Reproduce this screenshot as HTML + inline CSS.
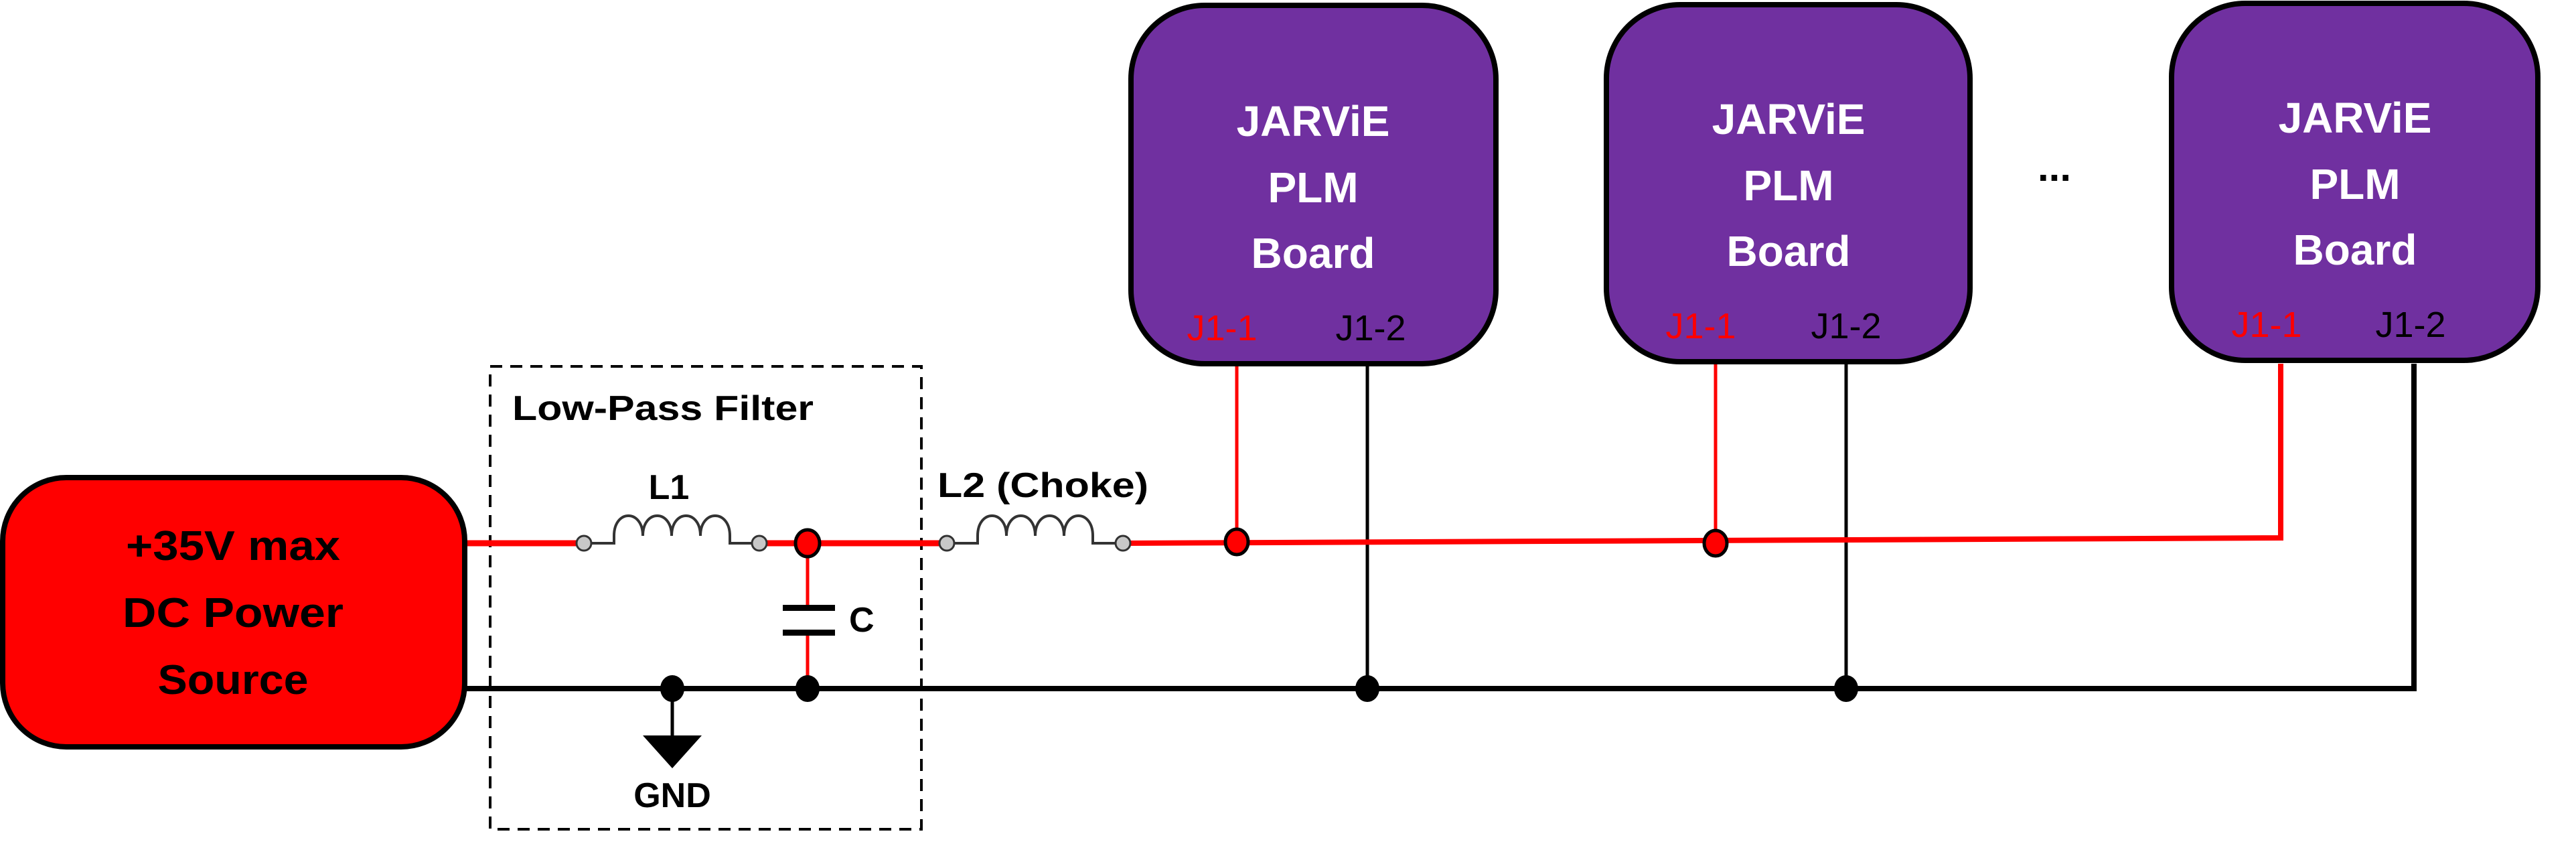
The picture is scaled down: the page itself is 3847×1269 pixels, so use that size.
<!DOCTYPE html>
<html><head><meta charset="utf-8"><style>
html,body{margin:0;padding:0;background:#fff;}
svg{display:block;}
text{font-family:"Liberation Sans",sans-serif;}
</style></head><body>
<svg width="3847" height="1269" viewBox="0 0 3847 1269" xmlns="http://www.w3.org/2000/svg">
<!-- dashed filter box -->
<rect x="732" y="547" width="644" height="691" fill="none" stroke="#000" stroke-width="4" stroke-dasharray="18,12"/>
<text x="765" y="627" font-size="52" font-weight="bold" textLength="450" lengthAdjust="spacingAndGlyphs">Low-Pass Filter</text>

<!-- ground wire -->
<polyline points="695,1028 3605,1028 3605,543" fill="none" stroke="#000" stroke-width="8"/>
<line x1="2042" y1="543" x2="2042" y2="1028" stroke="#000" stroke-width="5"/>
<line x1="2757" y1="543" x2="2757" y2="1028" stroke="#000" stroke-width="5"/>
<!-- GND symbol -->
<line x1="1004" y1="1028" x2="1004" y2="1100" stroke="#000" stroke-width="5"/>
<polygon points="960,1098 1048,1098 1004,1147" fill="#000"/>
<text x="1004" y="1205" font-size="52" font-weight="bold" text-anchor="middle">GND</text>

<!-- red supply line -->
<line x1="695" y1="811" x2="872" y2="811" stroke="#f00" stroke-width="9"/>
<line x1="1134" y1="811" x2="1414" y2="811" stroke="#f00" stroke-width="9"/>
<polyline points="1677,811 3406,803 3406,543" fill="none" stroke="#f00" stroke-width="8"/>
<line x1="1847" y1="543" x2="1847" y2="811" stroke="#f00" stroke-width="5"/>
<line x1="2562" y1="543" x2="2562" y2="811" stroke="#f00" stroke-width="5"/>
<!-- capacitor -->
<line x1="1206" y1="811" x2="1206" y2="907" stroke="#f00" stroke-width="5"/>
<line x1="1206" y1="945" x2="1206" y2="1028" stroke="#f00" stroke-width="5"/>
<rect x="1169" y="903" width="78" height="9" fill="#000"/>
<rect x="1169" y="940" width="78" height="9" fill="#000"/>
<text x="1268" y="943" font-size="52" font-weight="bold">C</text>

<!-- inductors -->
<g fill="none" stroke="#333" stroke-width="4">
<path d="M872,811 H917 V800 C917,760 960,760 960,800 C960,760 1003,760 1003,800 C1003,760 1046,760 1046,800 C1046,760 1090,760 1090,800 V811 H1134"/>
<path d="M1414,811 H1460 V800 C1460,760 1503,760 1503,800 C1503,760 1546,760 1546,800 C1546,760 1589,760 1589,800 C1589,760 1632,760 1632,800 V811 H1677"/>
</g>
<g fill="#c8c8c8" stroke="#333" stroke-width="3">
<circle cx="872" cy="811" r="11"/><circle cx="1134" cy="811" r="11"/>
<circle cx="1414" cy="811" r="11"/><circle cx="1677" cy="811" r="11"/>
</g>
<text x="999" y="745" font-size="52" font-weight="bold" text-anchor="middle">L1</text>
<text x="1400" y="742" font-size="52" font-weight="bold" textLength="315" lengthAdjust="spacingAndGlyphs">L2 (Choke)</text>

<!-- nodes -->
<g fill="#f00" stroke="#000" stroke-width="5">
<ellipse cx="1206" cy="811" rx="18" ry="20"/>
<ellipse cx="1847" cy="809" rx="17" ry="19"/>
<ellipse cx="2562" cy="811" rx="17" ry="19"/>
</g>
<g fill="#000">
<ellipse cx="1004" cy="1028" rx="18" ry="20"/>
<ellipse cx="1206" cy="1028" rx="18" ry="20"/>
<ellipse cx="2042" cy="1028" rx="18" ry="20"/>
<ellipse cx="2757" cy="1028" rx="18" ry="20"/>
</g>

<!-- power source -->
<rect x="4" y="713" width="690" height="402" rx="95" ry="95" fill="#f00" stroke="#000" stroke-width="8"/>
<g font-size="62" font-weight="bold" text-anchor="middle" fill="#000">
<text x="348" y="836" textLength="320" lengthAdjust="spacingAndGlyphs">+35V max</text>
<text x="348" y="936" textLength="330" lengthAdjust="spacingAndGlyphs">DC Power</text>
<text x="348" y="1036" textLength="225" lengthAdjust="spacingAndGlyphs">Source</text>
</g>

<!-- boards -->
<g fill="#7030a0" stroke="#000" stroke-width="8">
<rect x="1689" y="8" width="545" height="535" rx="110" ry="110"/>
<rect x="2399" y="7" width="543" height="533" rx="110" ry="110"/>
<rect x="3243" y="5" width="547" height="533" rx="110" ry="110"/>
</g>
<g font-size="64" font-weight="bold" fill="#fff" text-anchor="middle">
<text x="1961" y="203">JARViE</text><text x="1961" y="302">PLM</text><text x="1961" y="400">Board</text>
<text x="2671" y="200">JARViE</text><text x="2671" y="299">PLM</text><text x="2671" y="397">Board</text>
<text x="3517" y="198">JARViE</text><text x="3517" y="297">PLM</text><text x="3517" y="395">Board</text>
</g>
<g font-size="54" text-anchor="middle">
<text x="1825" y="508" fill="#f00">J1-1</text><text x="2047" y="508" fill="#000">J1-2</text>
<text x="2540" y="505" fill="#f00">J1-1</text><text x="2757" y="505" fill="#000">J1-2</text>
<text x="3385" y="503" fill="#f00">J1-1</text><text x="3600" y="503" fill="#000">J1-2</text>
</g>
<text x="3068" y="270" font-size="60" font-weight="bold" text-anchor="middle">...</text>
</svg>
</body></html>
